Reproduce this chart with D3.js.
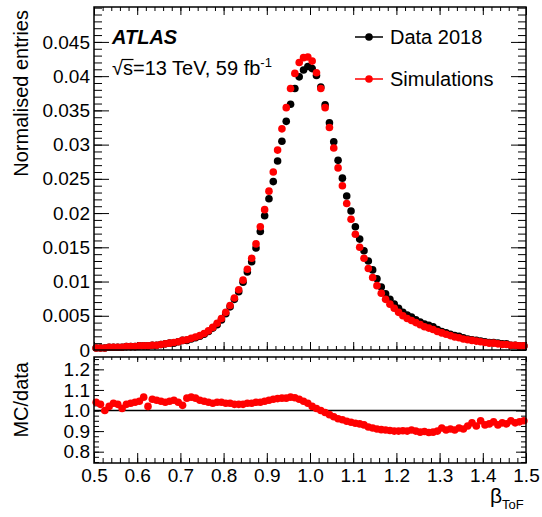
<!DOCTYPE html>
<html>
<head>
<meta charset="utf-8">
<script src="https://cdn.jsdelivr.net/npm/d3@7"></script>
<style>
  body { margin: 0; background: #fff; }
  text { font-family: "Liberation Sans", Arial, Helvetica, sans-serif; }
</style>
</head>
<body>
<svg id="chart" width="542" height="517"></svg>
<script>
// beta_ToF bins: 100 bins of width 0.01 from 0.5 to 1.5
const binCentres = d3.range(100).map(i => 0.505 + i * 0.01);

// Normalised entries, data 2018 (black)
const data2018 = [
  0.0003,0.0003,0.0003,0.0004,0.0004,0.0004,0.0004,0.0005,0.0005,0.0005,
  0.0006,0.0006,0.0006,0.0007,0.0007,0.0008,0.0009,0.0010,0.0010,0.0012,
  0.0014,0.0014,0.0016,0.0018,0.0020,0.0023,0.0027,0.0032,0.0037,0.0044,
  0.0053,0.0063,0.0074,0.0085,0.0099,0.0114,0.0129,0.0149,0.0173,0.0196,
  0.0221,0.0246,0.0276,0.0305,0.0334,0.0359,0.0382,0.0399,0.0409,0.0414,
  0.0411,0.0401,0.0384,0.0358,0.0332,0.0304,0.0277,0.0251,0.0225,0.0203,
  0.0180,0.0162,0.0145,0.0130,0.0117,0.0104,0.0092,0.0082,0.0074,0.0067,
  0.0061,0.0055,0.0051,0.0048,0.0044,0.0041,0.0038,0.0036,0.0034,0.0030,
  0.0027,0.0025,0.0023,0.0021,0.0020,0.0018,0.0016,0.0015,0.0014,0.0013,
  0.0012,0.0011,0.0011,0.0010,0.0009,0.0009,0.0007,0.0007,0.0006,0.0006
];

// Normalised entries, simulations (red)
const simulations = [
  0.0003,0.0003,0.0003,0.0004,0.0004,0.0004,0.0004,0.0005,0.0005,0.0005,
  0.0006,0.0006,0.0006,0.0007,0.0007,0.0008,0.0009,0.0010,0.0011,0.0012,
  0.0014,0.0015,0.0017,0.0019,0.0021,0.0024,0.0028,0.0033,0.0039,0.0046,
  0.0055,0.0065,0.0076,0.0088,0.0102,0.0118,0.0134,0.0155,0.0180,0.0205,
  0.0232,0.0260,0.0292,0.0323,0.0354,0.0382,0.0404,0.0420,0.0427,0.0428,
  0.0422,0.0405,0.0382,0.0354,0.0325,0.0295,0.0266,0.0240,0.0214,0.0191,
  0.0169,0.0150,0.0134,0.0119,0.0106,0.0094,0.0083,0.0074,0.0067,0.0061,
  0.0055,0.0050,0.0046,0.0043,0.0040,0.0037,0.0034,0.0032,0.0030,0.0027,
  0.0025,0.0023,0.0021,0.0019,0.0018,0.0016,0.0015,0.0014,0.0013,0.0012,
  0.0011,0.0010,0.0010,0.0009,0.0008,0.0008,0.0007,0.0007,0.0006,0.0006
];

// MC/data ratio
const ratio = [
  1.04,1.03,1.00,1.02,1.035,1.03,1.01,1.03,1.035,1.04,
  1.045,1.065,1.02,1.055,1.05,1.045,1.04,1.045,1.05,1.04,
  1.025,1.06,1.065,1.06,1.05,1.045,1.04,1.035,1.04,1.04,
  1.035,1.035,1.03,1.03,1.03,1.035,1.035,1.04,1.04,1.045,
  1.05,1.055,1.058,1.06,1.06,1.065,1.062,1.055,1.045,1.035,
  1.02,1.01,1.00,0.99,0.98,0.97,0.96,0.955,0.948,0.943,
  0.938,0.935,0.93,0.92,0.915,0.91,0.907,0.905,0.903,0.90,
  0.90,0.902,0.90,0.905,0.90,0.895,0.898,0.893,0.895,0.90,
  0.915,0.905,0.91,0.905,0.915,0.91,0.925,0.94,0.925,0.95,
  0.93,0.935,0.945,0.93,0.94,0.935,0.95,0.94,0.945,0.95
];

const xTicks = [0.5, 0.6, 0.7, 0.8, 0.9, 1.0, 1.1, 1.2, 1.3, 1.4, 1.5];
const yTicks = [0, 0.005, 0.01, 0.015, 0.02, 0.025, 0.03, 0.035, 0.04, 0.045];
const yTickLabels = ["0", "0.005", "0.01", "0.015", "0.02", "0.025", "0.03", "0.035", "0.04", "0.045"];
const rTicks = [0.8, 0.9, 1.0, 1.1, 1.2];

const legendItems = [
  { label: "Data 2018", color: "#000000" },
  { label: "Simulations", color: "#ff0000" }
];

// layout
const left = 94, right = 526;
const topY0 = 7, topY1 = 350;
const ratY0 = 357, ratY1 = 463;
const font = 20, tickFont = 19;
const R = 3.8;

const svg = d3.select("#chart");

const x = d3.scaleLinear().domain([0.5, 1.5]).range([left, right]);
const y = d3.scaleLinear().domain([0, 0.0501]).range([topY1, topY0]);
const yr = d3.scaleLinear().domain([0.745, 1.26]).range([ratY1, ratY0]);

// draw an axis with inward ticks (ROOT style)
function drawAxis(axisFn, scale, pos, values, len, labels, pad) {
  const ax = axisFn(scale).tickValues(values).tickSize(-len).tickPadding(pad || 4)
    .tickFormat(labels ? labels : () => "");
  const isVert = axisFn === d3.axisLeft || axisFn === d3.axisRight;
  const g = svg.append("g")
    .attr("transform", isVert ? `translate(${pos},0)` : `translate(0,${pos})`)
    .call(ax);
  g.select(".domain").remove();
  g.selectAll("line").attr("stroke", "#000").attr("stroke-width", 1);
  g.selectAll("text").attr("font-size", tickFont).attr("fill", "#000")
    .attr("font-family", "'Liberation Sans', Arial, Helvetica, sans-serif");
  return g;
}

const xMinor = d3.range(0.5, 1.5001, 0.02);
const yMinor = d3.range(0, 0.0501, 0.001);
const rMinor = d3.range(0.75, 1.2501, 0.025);

// ---- top panel axes
drawAxis(d3.axisLeft, y, left, yTicks, 15, (d, i) => yTickLabels[i], 4);
drawAxis(d3.axisLeft, y, left, yMinor, 8);
drawAxis(d3.axisRight, y, right, yTicks, 15);
drawAxis(d3.axisRight, y, right, yMinor, 8);
drawAxis(d3.axisBottom, x, topY1, xTicks, 8);
drawAxis(d3.axisBottom, x, topY1, xMinor, 4);
drawAxis(d3.axisTop, x, topY0, xTicks, 8);
drawAxis(d3.axisTop, x, topY0, xMinor, 4);

// ---- ratio panel axes
drawAxis(d3.axisLeft, yr, left, rTicks, 10, d3.format(".1f"), 4);
drawAxis(d3.axisLeft, yr, left, rMinor, 5);
drawAxis(d3.axisRight, yr, right, rTicks, 10);
drawAxis(d3.axisRight, yr, right, rMinor, 5);
drawAxis(d3.axisBottom, x, ratY1, xTicks, 10, d3.format(".1f"), 6);
drawAxis(d3.axisBottom, x, ratY1, xMinor, 5);
drawAxis(d3.axisTop, x, ratY0, xTicks, 5);
drawAxis(d3.axisTop, x, ratY0, xMinor, 3);

// reference line at 1
svg.append("line")
  .attr("x1", left).attr("x2", right)
  .attr("y1", yr(1)).attr("y2", yr(1))
  .attr("stroke", "#000").attr("stroke-width", 1.5);

// ---- points
svg.append("g").selectAll("circle")
  .data(data2018)
  .join("circle")
  .attr("cx", (d, i) => x(binCentres[i]))
  .attr("cy", d => y(d))
  .attr("r", R)
  .attr("fill", "#000");

svg.append("g").selectAll("circle")
  .data(simulations)
  .join("circle")
  .attr("cx", (d, i) => x(binCentres[i]))
  .attr("cy", d => y(d))
  .attr("r", R)
  .attr("fill", "#ff0000");

svg.append("g").selectAll("circle")
  .data(ratio)
  .join("circle")
  .attr("cx", (d, i) => x(binCentres[i]))
  .attr("cy", d => yr(d))
  .attr("r", R)
  .attr("fill", "#ff0000");

// ---- frames
svg.append("rect")
  .attr("x", left).attr("y", topY0)
  .attr("width", right - left).attr("height", topY1 - topY0)
  .attr("fill", "none").attr("stroke", "#000").attr("stroke-width", 1.5);
svg.append("rect")
  .attr("x", left).attr("y", ratY0)
  .attr("width", right - left).attr("height", ratY1 - ratY0)
  .attr("fill", "none").attr("stroke", "#000").attr("stroke-width", 1.5);

// ---- labels
svg.append("text")
  .attr("transform", "translate(28,10) rotate(-90)")
  .attr("text-anchor", "end")
  .attr("font-size", font)
  .text("Normalised entries");

svg.append("text")
  .attr("transform", "translate(28,362) rotate(-90)")
  .attr("text-anchor", "end")
  .attr("font-size", font)
  .text("MC/data");

const xt = svg.append("text")
  .attr("x", 490).attr("y", 503)
  .attr("font-size", 21);
xt.append("tspan").text("β");
xt.append("tspan").attr("dy", 6).attr("font-size", 13).text("ToF");

// ATLAS label
svg.append("text")
  .attr("x", 112).attr("y", 44)
  .attr("font-size", font)
  .attr("font-weight", "bold")
  .attr("font-style", "italic")
  .text("ATLAS");

const lumi = svg.append("text")
  .attr("x", 112).attr("y", 75)
  .attr("font-size", font);
lumi.append("tspan").text("√");
const sSpan = lumi.append("tspan").text("s");
lumi.append("tspan").text("=13 TeV, 59 fb");
lumi.append("tspan").attr("dy", -8).attr("font-size", 13).text("-1");

// bar over the s of the square root
const sBox = sSpan.node().getExtentOfChar ? null : null;
const sStart = lumi.node().getStartPositionOfChar(1).x;
const sEnd = lumi.node().getEndPositionOfChar(1).x;
svg.append("line")
  .attr("x1", sStart - 1).attr("x2", sEnd + 0.5)
  .attr("y1", 59.5).attr("y2", 59.5)
  .attr("stroke", "#000").attr("stroke-width", 1.2);

// ---- legend
const leg = svg.append("g").selectAll("g")
  .data(legendItems)
  .join("g")
  .attr("transform", (d, i) => `translate(0,${37 + i * 42})`);
leg.append("line")
  .attr("x1", 355).attr("x2", 383)
  .attr("stroke", d => d.color).attr("stroke-width", 1.5);
leg.append("circle")
  .attr("cx", 369).attr("r", R)
  .attr("fill", d => d.color);
leg.append("text")
  .attr("x", 390).attr("y", 7)
  .attr("font-size", font)
  .text(d => d.label);
</script>
</body>
</html>
